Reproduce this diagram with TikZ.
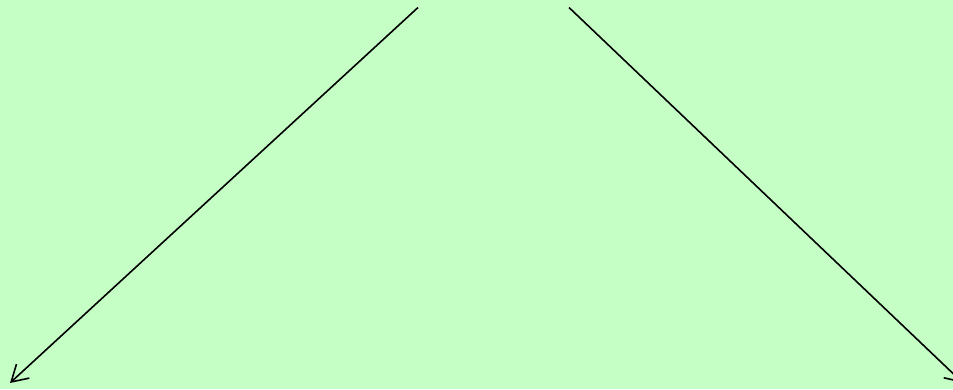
\documentclass[tikz,border=0pt]{standalone}
\usetikzlibrary{arrows.meta}
\definecolor{bgreen}{RGB}{198,255,198}
\begin{document}
\begin{tikzpicture}[x=1pt,y=-1pt,
  conn/.style={line width=1.6pt, -{Straight Barb[length=16pt,width=19pt,line width=1.6pt]}}]
\fill[bgreen] (0,0) rectangle (953,389);
\useasboundingbox (0,0) rectangle (953,389);
\coordinate (ls) at (418,7.5);
\coordinate (le) at (10,383);
\coordinate (rs) at (569,7.5);
\coordinate (re) at (963,383);
\draw[conn] (ls) -- (le);
\draw[conn] (rs) -- (re);
\end{tikzpicture}
\end{document}
